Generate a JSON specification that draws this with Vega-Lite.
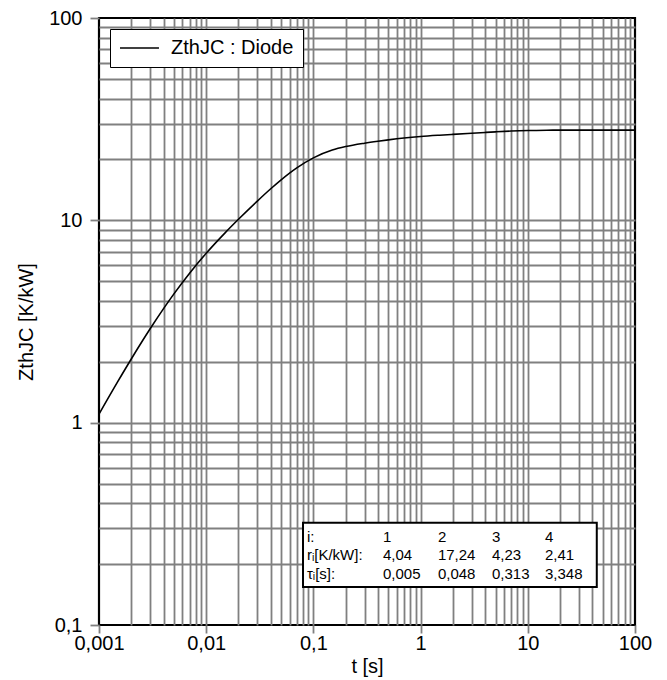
{
  "$schema": "https://vega.github.io/schema/vega-lite/v6.json",
  "autosize": "none",
  "width": 536,
  "height": 607,
  "padding": {"left": 99, "top": 18, "right": 32, "bottom": 55},
  "background": "white",
  "config": {
    "font": "Liberation Sans",
    "view": {"stroke": "black", "strokeWidth": 2.2},
    "axis": {"domain": false, "gridColor": "#808080", "gridWidth": 1.8, "tickColor": "#808080", "tickWidth": 1.8, "labelColor": "black", "titleColor": "black", "labelFontSize": 20, "titleFontSize": 20, "titleFontWeight": "normal", "labelOverlap": false, "labelFlush": false, "labelBound": false}
  },
  "data": {
    "values": [
      {"t": 0.001, "z": 1.102},
      {"t": 0.0015, "z": 1.599},
      {"t": 0.002, "z": 2.064},
      {"t": 0.003, "z": 2.910},
      {"t": 0.004, "z": 3.660},
      {"t": 0.005, "z": 4.330},
      {"t": 0.007, "z": 5.482},
      {"t": 0.01, "z": 6.876},
      {"t": 0.015, "z": 8.675},
      {"t": 0.02, "z": 10.118},
      {"t": 0.03, "z": 12.450},
      {"t": 0.04, "z": 14.322},
      {"t": 0.05, "z": 15.856},
      {"t": 0.07, "z": 18.168},
      {"t": 0.1, "z": 20.362},
      {"t": 0.15, "z": 22.238},
      {"t": 0.2, "z": 23.150},
      {"t": 0.3, "z": 24.061},
      {"t": 0.4, "z": 24.602},
      {"t": 0.5, "z": 24.988},
      {"t": 0.7, "z": 25.513},
      {"t": 1, "z": 25.959},
      {"t": 1.5, "z": 26.345},
      {"t": 2, "z": 26.587},
      {"t": 3, "z": 26.936},
      {"t": 4, "z": 27.19},
      {"t": 5, "z": 27.379},
      {"t": 7, "z": 27.622},
      {"t": 10, "z": 27.798},
      {"t": 15, "z": 27.893},
      {"t": 20, "z": 27.914},
      {"t": 30, "z": 27.92},
      {"t": 50, "z": 27.92},
      {"t": 100, "z": 27.92}
    ]
  },
  "encoding": {
    "x": {
      "field": "t", "type": "quantitative",
      "scale": {"type": "log", "domain": [0.001, 100], "nice": false},
      "title": "t [s]",
      "axis": {
        "values": [0.001,0.002,0.003,0.004,0.005,0.006,0.007,0.008,0.009,0.01,0.02,0.03,0.04,0.05,0.06,0.07,0.08,0.09,0.1,0.2,0.3,0.4,0.5,0.6,0.7,0.8,0.9,1,2,3,4,5,6,7,8,9,10,20,30,40,50,60,70,80,90,100],
        "labelExpr": "indexof([0.001,0.01,0.1,1,10,100], datum.value) >= 0 ? replace('' + datum.value, '.', ',') : ''",
        "tickOpacity": {"condition": {"test": "indexof([0.001,0.01,0.1,1,10,100], datum.value) >= 0", "value": 1}, "value": 0},
        "gridOpacity": {"condition": {"test": "datum.value == 0.001 || datum.value == 100", "value": 0}, "value": 1},
        "tickSize": 8,
        "labelPadding": 0,
        "titlePadding": 3
      }
    },
    "y": {
      "field": "z", "type": "quantitative",
      "scale": {"type": "log", "domain": [0.1, 100], "nice": false},
      "title": "ZthJC [K/kW]",
      "axis": {
        "values": [0.1,0.2,0.3,0.4,0.5,0.6,0.7,0.8,0.9,1,2,3,4,5,6,7,8,9,10,20,30,40,50,60,70,80,90,100],
        "labelExpr": "indexof([0.1,1,10,100], datum.value) >= 0 ? replace('' + datum.value, '.', ',') : ''",
        "tickOpacity": {"condition": {"test": "indexof([0.1,1,10,100], datum.value) >= 0", "value": 1}, "value": 0},
        "gridOpacity": {"condition": {"test": "datum.value == 0.1 || datum.value == 100", "value": 0}, "value": 1},
        "tickSize": 9,
        "labelPadding": 8,
        "titlePadding": 12
      }
    }
  },
  "layer": [
    {
      "mark": {"type": "line", "strokeWidth": 1.6, "interpolate": "monotone"},
      "encoding": {
        "color": {
          "datum": "ZthJC : Diode",
          "scale": {"range": ["black"]},
          "legend": {
            "title": null,
            "orient": "top-left",
            "offset": 11,
            "strokeColor": "black",
            "fillColor": "white",
            "padding": 9,
            "symbolType": "M-1,0H3.33",
            "symbolSize": 324,
            "symbolStrokeWidth": 1.6,
            "labelFontSize": 20,
            "labelOffset": 32,
            "labelColor": "black"
          }
        }
      }
    },
    {
      "transform": [{"filter": "datum.t == 1"}],
      "mark": {"type": "rect", "fill": "white", "stroke": "black", "strokeWidth": 2},
      "encoding": {
        "x": {"datum": 0.08, "type": "quantitative"},
        "x2": {"datum": 44},
        "y": {"datum": 0.32, "type": "quantitative"},
        "y2": {"datum": 0.154}
      }
    },
    {
      "transform": [{"filter": "datum.t == 1"}],
      "mark": {"type": "text", "align": "left", "baseline": "top", "fontSize": 15, "lineHeight": 18.5, "color": "black"},
      "encoding": {
        "x": {"datum": 0.087, "type": "quantitative"},
        "y": {"datum": 0.295, "type": "quantitative"},
        "text": {"value": ["i:", "rᵢ[K/kW]:", "τᵢ[s]:"]}
      }
    },
    {
      "transform": [{"filter": "datum.t == 1"}],
      "mark": {"type": "text", "align": "left", "baseline": "top", "fontSize": 15, "lineHeight": 18.5, "color": "black"},
      "encoding": {
        "x": {"datum": 0.446, "type": "quantitative"},
        "y": {"datum": 0.295, "type": "quantitative"},
        "text": {"value": ["1", "4,04", "0,005"]}
      }
    },
    {
      "transform": [{"filter": "datum.t == 1"}],
      "mark": {"type": "text", "align": "left", "baseline": "top", "fontSize": 15, "lineHeight": 18.5, "color": "black"},
      "encoding": {
        "x": {"datum": 1.45, "type": "quantitative"},
        "y": {"datum": 0.295, "type": "quantitative"},
        "text": {"value": ["2", "17,24", "0,048"]}
      }
    },
    {
      "transform": [{"filter": "datum.t == 1"}],
      "mark": {"type": "text", "align": "left", "baseline": "top", "fontSize": 15, "lineHeight": 18.5, "color": "black"},
      "encoding": {
        "x": {"datum": 4.63, "type": "quantitative"},
        "y": {"datum": 0.295, "type": "quantitative"},
        "text": {"value": ["3", "4,23", "0,313"]}
      }
    },
    {
      "transform": [{"filter": "datum.t == 1"}],
      "mark": {"type": "text", "align": "left", "baseline": "top", "fontSize": 15, "lineHeight": 18.5, "color": "black"},
      "encoding": {
        "x": {"datum": 14.46, "type": "quantitative"},
        "y": {"datum": 0.295, "type": "quantitative"},
        "text": {"value": ["4", "2,41", "3,348"]}
      }
    }
  ]
}
